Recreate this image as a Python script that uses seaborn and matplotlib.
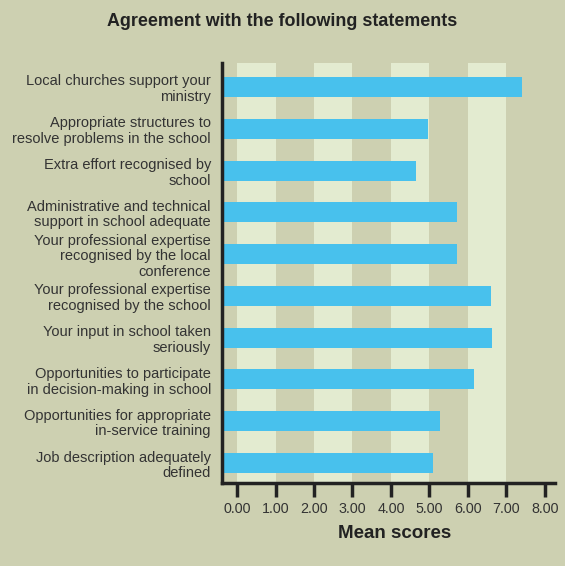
import matplotlib
matplotlib.use("Agg")
import matplotlib.pyplot as plt
import seaborn as sns
import pandas as pd

# Statements and their mean agreement scores
statements = [
    "Local churches support your\nministry",
    "Appropriate structures to\nresolve problems in the school",
    "Extra effort recognised by\nschool",
    "Administrative and technical\nsupport in school adequate",
    "Your professional expertise\nrecognised by the local\nconference",
    "Your professional expertise\nrecognised by the school",
    "Your input in school taken\nseriously",
    "Opportunities to participate\nin decision-making in school",
    "Opportunities for appropriate\nin-service training",
    "Job description adequately\ndefined",
]
mean_scores = [7.39, 4.97, 4.64, 5.71, 5.71, 6.61, 6.63, 6.16, 5.26, 5.10]
tick_values = [0, 1, 2, 3, 4, 5, 6, 7, 8]
tick_labels = ["0.00", "1.00", "2.00", "3.00", "4.00", "5.00", "6.00", "7.00", "8.00"]

BG = "#CDD0B1"
STRIPE = "#E3EBD0"
BAR = "#48C1ED"
INK = "#222222"
TEXT = "#333333"

sns.set_style("ticks")
plt.rcParams["font.family"] = ["Liberation Sans", "DejaVu Sans"]

df = pd.DataFrame({"statement": statements, "score": mean_scores})

fig = plt.figure(figsize=(5.65, 5.66), dpi=100, facecolor=BG)
ax = fig.add_axes([0.3929, 0.1466, 0.9823 - 0.3929, 0.8887 - 0.1466])
ax.set_facecolor(BG)

x_min, x_max = -0.39, 8.26

sns.barplot(data=df, x="score", y="statement", orient="h", color=BAR,
            saturation=1, width=0.48, linewidth=0, ax=ax, zorder=2)

# bars run from the vertical axis line
for patch, val in zip(ax.containers[0], mean_scores):
    patch.set_x(x_min)
    patch.set_width(val - x_min)
    patch.set_edgecolor("none")

# alternating light bands behind the bars
for start in tick_values[0:-1:2]:
    ax.axvspan(start, start + 1, color=STRIPE, lw=0, zorder=0)

ax.set_xlim(x_min, x_max)
ax.set_ylim(9.479, -0.574)

for side in ("top", "right"):
    ax.spines[side].set_visible(False)
for side in ("left", "bottom"):
    ax.spines[side].set_linewidth(2.5)
    ax.spines[side].set_color(INK)
    ax.spines[side].set_zorder(3)

ax.set_xticks(tick_values)
ax.set_xticklabels(tick_labels, fontsize=10.3, color=TEXT)
ax.tick_params(axis="x", length=10, width=2.5, color=INK, pad=4, direction="out")
ax.tick_params(axis="y", length=0, pad=8, labelsize=10.5, labelcolor=TEXT)
for lbl in ax.get_yticklabels():
    lbl.set_linespacing(1.15)
    lbl.set_horizontalalignment("right")

ax.set_xlabel("")
ax.set_ylabel("")

fig.text(0.5, 1 - 21 / 566, "Agreement with the following statements",
         ha="center", va="center", fontsize=12.9, fontweight="bold", color=INK)
fig.text(395 / 565, 1 - 534 / 566, "Mean scores", ha="center", va="center",
         fontsize=13.5, fontweight="bold", color=INK)

fig.savefig("out.png", dpi=100, facecolor=BG)
